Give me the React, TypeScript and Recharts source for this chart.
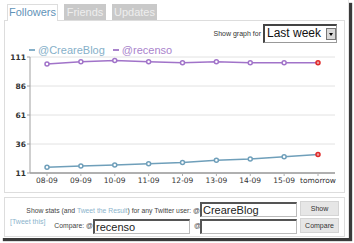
import { CartesianGrid, Legend, Line, LineChart, XAxis, YAxis } from "recharts";

const days = ["08-09", "09-09", "10-09", "11-09", "12-09", "13-09", "14-09", "15-09", "tomorrow"];
const creareBlog = [16, 17, 18, 19, 20, 22, 23, 25, 27];
const recenso = [105, 107, 108, 107, 106, 107, 106, 106, 106];
const yTicks = [11, 36, 61, 86, 111];

const seriesInfo = [
    { key: "creareBlog", name: "@CreareBlog", color: "#6f9fba", text: "#86b0c9" },
    { key: "recenso", name: "@recenso", color: "#a173c9", text: "#a983cc" },
];

const chartData = days.map((day, i) => ({
    day,
    creareBlog: creareBlog[i],
    recenso: recenso[i],
}));

const sans = "'Liberation Sans', Arial, sans-serif";
const verdana = "'DejaVu Sans', Verdana, sans-serif";

const makeDot = (color: string) => (props: any) => {
    const { cx, cy, index } = props;
    const last = index === days.length - 1;
    return (
        <circle
            key={`dot-${color}-${index}`}
            cx={cx}
            cy={cy}
            r={2}
            fill={last ? "#e8a0a0" : "#fff"}
            stroke={last ? "#e02a2a" : color}
            strokeWidth={1.5}
        />
    );
};

const LegendContent = () => (
    <div style={{ display: "flex", height: 15, alignItems: "center", fontFamily: sans, fontSize: 11 }}>
        {seriesInfo.map((s) => (
            <span key={s.key} style={{ display: "flex", alignItems: "center", marginRight: 8, color: s.text }}>
                <span style={{ display: "inline-block", width: 6, height: 2, background: s.text, marginRight: 3 }} />
                {s.name}
            </span>
        ))}
    </div>
);

const box = (left: number, top: number, width: number, height: number, extra: any = {}) => ({
    position: "absolute" as const,
    left,
    top,
    width,
    height,
    boxSizing: "border-box" as const,
    ...extra,
});

const Input = ({ left, top, value }: { left: number; top: number; value: string }) => (
    <div
        style={box(left, top, 97, 15, {
            background: "#fff",
            borderTop: "2px solid #555",
            borderLeft: "2px solid #555",
            borderRight: "1px solid #bbb",
            borderBottom: "1px solid #bbb",
            fontFamily: sans,
            fontSize: 11,
            lineHeight: "12px",
            paddingLeft: 1,
            color: "#222",
        })}
    >
        {value}
    </div>
);

const Button = ({ left, top, label }: { left: number; top: number; label: string }) => (
    <div
        style={box(left, top, 39, 15, {
            background: "#e6e6e6",
            border: "1px solid #d4d4d4",
            fontFamily: sans,
            fontSize: 7,
            lineHeight: "13px",
            textAlign: "center",
            color: "#333",
        })}
    >
        {label}
    </div>
);

const tab = (left: number, top: number, width: number, height: number, active: boolean) =>
    box(left, top, width, height, {
        background: active ? "#fff" : "#c9c9c9",
        border: active ? "1px solid #ddd" : "none",
        borderBottom: "none",
        zIndex: 2,
        fontFamily: sans,
        fontSize: 11,
        color: active ? "#5f93b8" : "#eeeeee",
        textAlign: "center",
        lineHeight: `${active ? height - 2 : height}px`,
        whiteSpace: "nowrap",
    });

export default function App() {
    document.body.style.margin = "0";
    return (
        <div style={{ position: "relative", width: 354, height: 243, background: "#fff", overflow: "hidden" }}>
            <div style={box(0, 0, 349, 238, { borderRight: "1px solid #e4e4e4", background: "#fff", boxShadow: "3px 3px 1px #3a3a3a" })} />

            <div style={tab(7, 4, 51, 17, true)}>Followers</div>
            <div style={tab(64, 4, 42, 16, false)}>Friends</div>
            <div style={tab(112, 4, 45, 16, false)}>Updates</div>

            <div style={box(4, 20, 341, 173, { border: "1px solid #ddd", zIndex: 1 })} />

            <div style={{ position: "absolute", right: 354 - 261, top: 30, fontFamily: sans, fontSize: 7, color: "#333", zIndex: 3 }}>
                Show graph for
            </div>
            <div
                style={box(263, 24, 74, 19, {
                    borderTop: "2px solid #444",
                    borderLeft: "2px solid #444",
                    borderRight: "1px solid #999",
                    borderBottom: "1px solid #999",
                    fontFamily: sans,
                    fontSize: 12,
                    lineHeight: "15px",
                    paddingLeft: 2,
                    color: "#111",
                    zIndex: 3,
                    background: "#fff",
                })}
            >
                Last week
                <div style={box(61, 2, 10, 12, { background: "#d8d8d8", border: "1px solid #777" })}>
                    <div style={{ position: "absolute", left: 2, top: 4, width: 0, height: 0, borderLeft: "2.5px solid transparent", borderRight: "2.5px solid transparent", borderTop: "3px solid #000" }} />
                </div>
            </div>

            <div style={{ position: "absolute", left: 0, top: 0, zIndex: 2 }}>
                <LineChart width={350} height={190} data={chartData} margin={{ top: 42, right: 15, left: 0, bottom: 0 }}>
                    <Legend
                        verticalAlign="top"
                        align="left"
                        height={15}
                        content={LegendContent}
                        wrapperStyle={{ left: 29, top: 42 }}
                    />
                    <CartesianGrid horizontal vertical={false} stroke="#e2e2e2" strokeWidth={1} />
                    <XAxis
                        dataKey="day"
                        height={17}
                        padding={{ left: 17, right: 17 }}
                        tickSize={3}
                        tickMargin={2}
                        interval={0}
                        axisLine={{ stroke: "#b0b0b0", strokeWidth: 2 }}
                        tickLine={{ stroke: "#b0b0b0" }}
                        tick={{ fontFamily: verdana, fontSize: 7.5, fill: "#333" }}
                    />
                    <YAxis
                        width={30}
                        domain={[11, 111]}
                        ticks={yTicks}
                        tickSize={3}
                        tickMargin={1}
                        axisLine={{ stroke: "#a0a0a0" }}
                        tickLine={{ stroke: "#a0a0a0" }}
                        tick={{ fontFamily: verdana, fontSize: 7.5, fontWeight: "bold", fill: "#333" }}
                    />
                    {seriesInfo.map((s) => (
                        <Line
                            key={s.key}
                            type="linear"
                            dataKey={s.key}
                            name={s.name}
                            stroke={s.color}
                            strokeWidth={1.5}
                            dot={makeDot(s.color)}
                            activeDot={false}
                            isAnimationActive={false}
                        />
                    ))}
                </LineChart>
            </div>

            <div style={box(4, 197, 341, 40, { border: "1px solid #ddd", zIndex: 1 })} />

            <div style={{ position: "absolute", right: 354 - 200, top: 207, fontFamily: sans, fontSize: 6.8, color: "#444", zIndex: 3, whiteSpace: "nowrap" }}>
                Show stats (and <span style={{ color: "#8bb4cc" }}>Tweet the Result</span>) for any Twitter user: @
            </div>
            <div style={{ position: "absolute", left: 10, top: 218, fontFamily: sans, fontSize: 7, color: "#8bb4cc", zIndex: 3 }}>
                [Tweet this]
            </div>
            <div style={{ position: "absolute", right: 354 - 93, top: 222, fontFamily: sans, fontSize: 6.8, color: "#444", zIndex: 3 }}>
                Compare: @
            </div>
            <div style={{ position: "absolute", left: 194, top: 222, fontFamily: sans, fontSize: 6.8, color: "#444", zIndex: 3 }}>
                @
            </div>
            <div style={{ position: "absolute", zIndex: 3, left: 0, top: 0 }}>
                <Input left={200} top={202} value="CreareBlog" />
                <Input left={93} top={219} value="recenso" />
                <Input left={200} top={219} value="" />
                <Button left={300} top={201} label="Show" />
                <Button left={300} top={218} label="Compare" />
            </div>
        </div>
    );
}
